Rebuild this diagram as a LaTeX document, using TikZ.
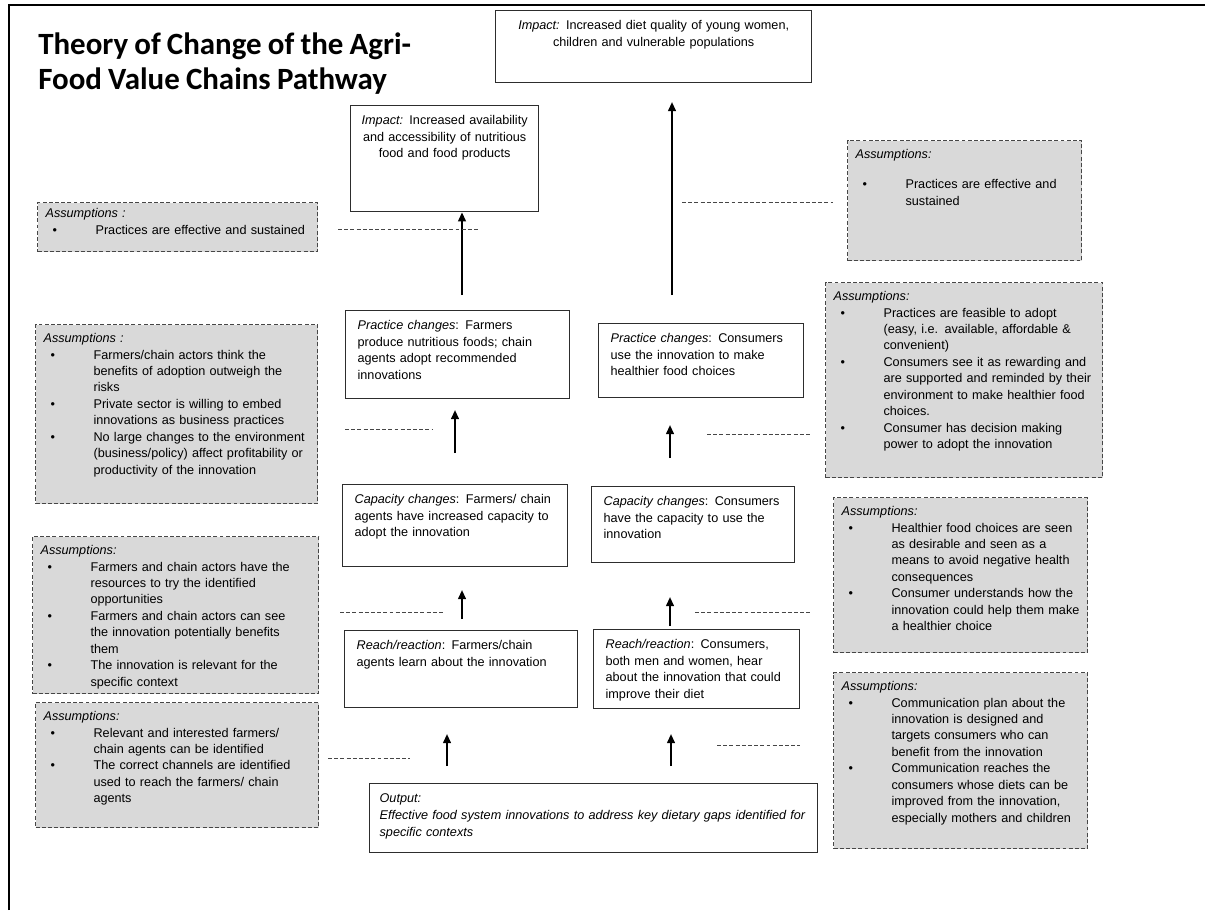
\documentclass[tikz,border=0pt]{standalone}
\usepackage{fontspec}
\setmainfont{Liberation Sans}
\newfontfamily\titlefont{Carlito}
\usepackage{xcolor}
\usetikzlibrary{arrows.meta,calc}

\definecolor{boxline}{RGB}{45,45,45}
\definecolor{asmline}{RGB}{70,70,70}
\definecolor{asmfill}{RGB}{217,217,217}

% bullet line with hanging indent for the assumption boxes
\newcommand{\asmitem}{\par\hangindent=1.25cm\hangafter=1\noindent\makebox[1.25cm][l]{\hspace{0.175cm}\textbullet}}

\begin{document}
\begin{tikzpicture}[x=0.025cm, y=-0.025cm,
    stage/.style={draw=boxline, line width=0.9pt, fill=white, anchor=north west, align=left,
        inner xsep=0.3cm, inner ysep=0.2cm, text height=0.275cm, font=\fontsize{9}{11.7}\selectfont},
    asm/.style={draw=asmline, line width=0.8pt, dash pattern=on 2.8pt off 1.6pt, fill=asmfill,
        anchor=north west, align=left, inner xsep=0.2cm, inner ysep=0.175cm, text height=0.275cm,
        font=\fontsize{9}{11.7}\selectfont},
    flow/.style={-{Triangle[width=5.5pt,length=6.5pt]}, line width=1.4pt},
    link/.style={draw=asmline, line width=0.7pt, dash pattern=on 2.8pt off 1.6pt}]
    \useasboundingbox (0,0) rectangle (1205,910);

    % frame
    \draw[line width=1.3pt] (9,910) -- (9,5) -- (1205,5);

    \node[anchor=base west, inner sep=0pt, text width=11cm, align=left,
        font=\titlefont\bfseries\fontsize{22}{25}\selectfont] (title) at (38,54)
        {\spaceskip=0.2em plus 0.1em\relax Theory of Change of the Agri-\\Food Value Chains Pathway};

    % pathway boxes
    \node[stage, align=center, text width=7.3cm, text depth=1.125cm] (impdiet) at (495,10)
        {\textit{Impact:} Increased diet quality of young women,\\children and vulnerable populations};
    \node[stage, align=center, inner xsep=0.2cm, text width=4.3cm, text depth=1.975cm] (impavail) at (350,105)
        {\textit{Impact:} Increased availability\\and accessibility of nutritious\\food and food products};
    \node[stage, text width=5cm, text depth=1.525cm] (pracfarm) at (345,310)
        {\textit{Practice changes}: Farmers\\produce nutritious foods; chain\\agents adopt recommended\\innovations};
    \node[stage, text width=4.525cm, text depth=1.175cm] (praccons) at (598,323)
        {\textit{Practice changes}: Consumers\\use the innovation to make\\healthier food choices};
    \node[stage, text width=5.025cm, text depth=1.375cm] (capfarm) at (342,484)
        {\textit{Capacity changes}: Farmers/ chain\\agents have increased capacity to\\adopt the innovation};
    \node[stage, text width=4.475cm, text depth=1.225cm] (capcons) at (591,486)
        {\textit{Capacity changes}: Consumers\\have the capacity to use the\\innovation};
    \node[stage, text width=5.225cm, text depth=1.25cm] (reachfarm) at (344,630)
        {\textit{Reach/reaction}: Farmers/chain\\agents learn about the innovation};
    \node[stage, text width=4.55cm, text depth=1.3cm] (reachcons) at (593,629)
        {\textit{Reach/reaction}: Consumers,\\both men and women, hear\\about the innovation that could\\improve their diet};
    \node[stage, inner xsep=0.25cm, text width=10.7cm, text depth=1.05cm,
        font=\fontsize{9}{12.1}\selectfont\itshape] (output) at (369,783)
        {Output:\\Effective food system innovations to address key dietary gaps identified for\\specific contexts};

    % assumptions, farmers side
    \node[asm, inner ysep=0.1cm, text width=6.6cm, text depth=0.75cm] (asmfarm1) at (37,202)
        {\textit{Assumptions :}\asmitem Practices are effective and sustained\par};
    \node[asm, text width=6.65cm, text depth=3.85cm] (asmfarm2) at (35,324)
        {\textit{Assumptions :}%
        \asmitem Farmers/chain actors think the\newline benefits of adoption outweigh the\newline risks%
        \asmitem Private sector is willing to embed\newline innovations as business practices%
        \asmitem No large changes to the environment\newline (business/policy) affect profitability or\newline productivity of the innovation\par};
    \node[asm, text width=6.75cm, text depth=3.3cm] (asmfarm3) at (32,536)
        {\textit{Assumptions:}%
        \asmitem Farmers and chain actors have the\newline resources to try the identified\newline opportunities%
        \asmitem Farmers and chain actors can see\newline the innovation potentially benefits\newline them%
        \asmitem The innovation is relevant for the\newline specific context\par};
    \node[asm, text width=6.675cm, text depth=2.5cm] (asmfarm4) at (35,702)
        {\textit{Assumptions:}%
        \asmitem Relevant and interested farmers/\newline chain agents can be identified%
        \asmitem The correct channels are identified\newline used to reach the farmers/ chain\newline agents\par};

    % assumptions, consumers side
    \node[asm, text width=5.45cm, text depth=2.375cm] (asmcons1) at (847,140)
        {\textit{Assumptions:}\par\vspace{0.34cm}%
        \asmitem Practices are effective and\newline sustained\par};
    \node[asm, text width=6.525cm, text depth=4.25cm] (asmcons2) at (825,282)
        {\textit{Assumptions:}%
        \asmitem Practices are feasible to adopt\newline (easy, i.e. available, affordable \&\newline convenient)%
        \asmitem Consumers see it as rewarding and\newline are supported and reminded by their\newline environment to make healthier food\newline choices.%
        \asmitem Consumer has decision making\newline power to adopt the innovation\par};
    \node[asm, text width=5.95cm, text depth=3.25cm] (asmcons3) at (833,497)
        {\textit{Assumptions:}%
        \asmitem Healthier food choices are seen\newline as desirable and seen as a\newline means to avoid negative health\newline consequences%
        \asmitem Consumer understands how the\newline innovation could help them make\newline a healthier choice\par};
    \node[asm, text width=5.95cm, text depth=3.775cm] (asmcons4) at (833,672)
        {\textit{Assumptions:}%
        \asmitem Communication plan about the\newline innovation is designed and\newline targets consumers who can\newline benefit from the innovation%
        \asmitem Communication reaches the\newline consumers whose diets can be\newline improved from the innovation,\newline especially mothers and children\par};

    % arrows
    \coordinate (fup1) at (462,295);
    \coordinate (cup1) at (672,295);
    \coordinate (cend1) at (672,102);
    \coordinate (fup2) at (455,453);
    \coordinate (fend2) at (455,410);
    \coordinate (cup2) at (670,458);
    \coordinate (cend2) at (670,425);
    \coordinate (fup3) at (462,619);
    \coordinate (fend3) at (462,590);
    \coordinate (cup3) at (670,626);
    \coordinate (cend3) at (670,597);
    \coordinate (fup4) at (447,766);
    \coordinate (fend4) at (447,734);
    \coordinate (cup4) at (671,766);
    \coordinate (cend4) at (671,734);
    \draw[flow] (fup1) -- (fup1 |- impavail.south);
    \draw[flow] (cup1) -- (cend1);
    \draw[flow] (fup2) -- (fend2);
    \draw[flow] (cup2) -- (cend2);
    \draw[flow] (fup3) -- (fend3);
    \draw[flow] (cup3) -- (cend3);
    \draw[flow] (fup4) -- (fend4);
    \draw[flow] (cup4) -- (cend4);

    % dashed links to the assumptions
    \coordinate (la1) at (338,229);  \coordinate (lb1) at (480,229);
    \coordinate (ra1) at (682,202);  \coordinate (rb1) at (833,202);
    \coordinate (la2) at (345,429);  \coordinate (lb2) at (433,429);
    \coordinate (ra2) at (707,434);  \coordinate (rb2) at (812,434);
    \coordinate (la3) at (340,612);  \coordinate (lb3) at (445,612);
    \coordinate (ra3) at (695,612);  \coordinate (rb3) at (812,612);
    \coordinate (la4) at (328,758);  \coordinate (lb4) at (410,758);
    \coordinate (ra4) at (717,745);  \coordinate (rb4) at (800,745);
    \foreach \i in {1,...,4} {
        \draw[link] (la\i) -- (lb\i);
        \draw[link] (ra\i) -- (rb\i);
    }
\end{tikzpicture}
\end{document}
